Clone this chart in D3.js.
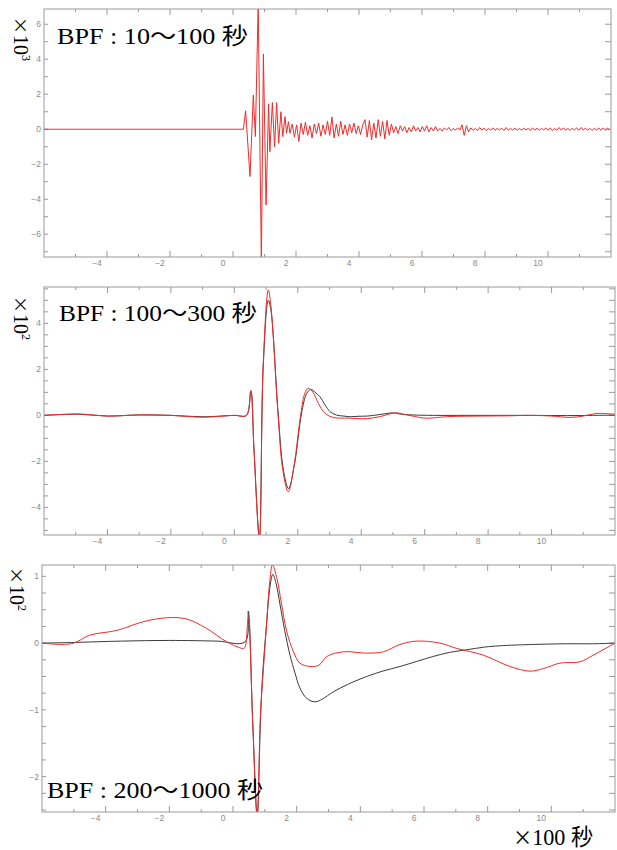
<!DOCTYPE html>
<html>
<head>
<meta charset="utf-8">
<script src="https://cdn.jsdelivr.net/npm/d3@7"></script>
<style>
  body { margin: 0; background: #fff; }
  .tick-label { font-family: "Liberation Sans", Arial, sans-serif; font-size: 8.5px; fill: #8a8a8a; }
  .big { font-family: "Liberation Serif", "Noto Sans CJK JP", serif; fill: #000; }
  .cjk { font-family: "Noto Sans CJK JP", sans-serif; }
</style>
</head>
<body>
<svg id="chart" width="617" height="850"></svg>
<script>
// ---- data (time in units of 100 s) ----

// BPF 10-100 s : onset and main pulse, [t, value x10^3]
const bpf1Head = [
  [-6, 0], [0.33, 0], [0.40, 1.05], [0.54, -2.7], [0.645, 1.96], [0.71, -0.42],
  [0.80, 7.2], [0.90, -7.6], [0.965, 4.3], [1.05, -4.33], [1.13, 1.45], [1.17, -1.28],
  [1.25, 1.52], [1.32, -1.0], [1.385, 1.52], [1.45, -0.8], [1.52, 1.0], [1.58, -0.42],
  [1.65, 0.72], [1.70, -0.23], [1.76, 0.43], [1.81, -0.23]
];
// BPF 10-100 s : coda, sampled every 0.07 from t = 1.88
const bpf1TailStart = 1.88;
const bpf1TailStep = 0.07;
const bpf1Tail = [
  0.3, -0.45, 0.25, -0.7, 0.35, -0.3, 0.4, -0.35, 0.2, -0.5, 0.3, -0.25, 0.35, -0.4, 0.25, -0.3,
  0.45, -0.35, 0.7, -0.5, 0.3, -0.4, 0.45, -0.3, 0.25, -0.35, 0.3, -0.2, 0.35, -0.25, 0.2, -0.3, 0.25,
  0.55, -0.45, 0.5, -0.6, 0.35, -0.5, 0.55, -0.4, 0.45, -0.55, 0.5, -0.35, 0.3,
  -0.2, 0.15, -0.25, 0.2, -0.1, 0.15, -0.2, 0.1, -0.15, 0.2, -0.1, 0.1, -0.15, 0.15, -0.1, 0.2,
  -0.15, 0.1, -0.1, 0.15, -0.1, 0.05, -0.1,
  0.08, -0.05, 0.1, -0.08, 0.05, -0.06, 0.08, -0.05,
  0.25, -0.35, 0.2, -0.15,
  0.08, -0.06, 0.05, -0.08, 0.1, -0.05, 0.06, -0.07, 0.04, -0.05, 0.08, -0.06, 0.05, -0.04, 0.06, -0.08,
  0.1, -0.06, 0.05, -0.05, 0.07, -0.06, 0.04, -0.05, 0.06, -0.04, 0.05, -0.07, 0.08, -0.05, 0.06, -0.06,
  0.05, -0.04, 0.07, -0.05, 0.06, -0.08, 0.05, -0.06, 0.1, -0.05, 0.08, -0.06, 0.05, -0.07, 0.06, -0.04,
  0.08, -0.06, 0.1, -0.05, 0.07, -0.06, 0.05, -0.08, 0.06, -0.05, 0.08, -0.06, 0.07, -0.05, 0.06, -0.04
];

// BPF 100-300 s, [t, value x10^2]
const bpf2Black = [
  [-6, 0], [-4.9, 0.05], [-4.0, -0.03], [-3.0, 0.02], [-2.0, 0.0], [-1.0, -0.06], [0.0, 0.0], [0.38, 0.0],
  [0.52, 1.07], [0.62, -1.5], [0.79, -5.3], [0.91, 2.1], [1.07, 5.0], [1.15, 4.6], [1.38, 0.1],
  [1.55, -2.4], [1.71, -3.18], [1.9, -2.1], [2.12, 0.1], [2.28, 0.95], [2.41, 1.13], [2.55, 1.0],
  [2.70, 0.81], [2.86, 0.45], [3.02, 0.16], [3.23, 0.01], [3.45, -0.03], [3.65, -0.06], [3.9, -0.04],
  [4.19, -0.03], [4.5, 0.02], [4.75, 0.07], [5.01, 0.11], [5.22, 0.06], [5.6, 0.02], [6.27, 0.0],
  [7.3, 0.0], [8.37, 0.0], [9.4, 0.0], [10.5, -0.01], [11.3, 0.0], [12, 0.01]
];
const bpf2Red = [
  [-6, 0], [-4.9, 0.06], [-4.0, -0.03], [-3.0, 0.02], [-2.0, 0.0], [-1.0, -0.08], [0.0, 0.0], [0.38, 0.0],
  [0.52, 1.07], [0.62, -1.5], [0.79, -5.4], [0.91, 2.2], [1.07, 5.45], [1.15, 4.8], [1.38, 0.0],
  [1.53, -2.4], [1.70, -3.32], [1.88, -2.2], [2.1, 0.1], [2.22, 0.95], [2.33, 1.18], [2.48, 1.0],
  [2.65, 0.52], [2.86, 0.09], [3.12, -0.09], [3.6, -0.12], [4.19, -0.14], [4.6, -0.05], [5.1, 0.11],
  [5.4, 0.03], [5.7, -0.05], [6.0, -0.12], [6.8, -0.05], [7.8, -0.03], [8.6, -0.02], [9.4, 0.0],
  [10.0, -0.03], [10.6, -0.09], [11.0, -0.03], [11.4, 0.08], [12, 0.05]
];

// BPF 200-1000 s, [t, value x10^2]
const bpf3Black = [
  [-6, 0], [-5.0, 0.01], [-3.5, 0.03], [-2.0, 0.04], [-0.5, 0.03], [0.38, 0.02], [0.48, 0.48],
  [0.62, -1.2], [0.76, -2.6], [0.86, -1.2], [0.92, -0.55], [1.06, 0.32], [1.15, 0.8], [1.25, 1.03],
  [1.35, 0.9], [1.48, 0.57], [1.62, 0.2], [1.79, -0.18], [1.95, -0.45], [2.1, -0.67], [2.32, -0.83],
  [2.58, -0.88], [2.8, -0.84], [3.15, -0.73], [3.6, -0.62], [4.2, -0.5], [4.7, -0.42], [5.25, -0.35],
  [5.8, -0.27], [6.29, -0.2], [6.8, -0.14], [7.34, -0.1], [7.9, -0.06], [8.39, -0.04], [9.44, -0.02],
  [10.5, -0.01], [11.3, -0.01], [12, 0.0]
];
const bpf3Red = [
  [-6, 0], [-5.4, -0.02], [-5.0, 0.0], [-4.49, 0.12], [-3.65, 0.19], [-2.82, 0.32], [-2.08, 0.38],
  [-1.45, 0.36], [-0.83, 0.22], [-0.2, 0.02], [0.32, -0.08], [0.38, -0.06], [0.48, 0.39],
  [0.62, -1.2], [0.76, -2.6], [0.86, -1.1], [0.95, -0.43], [1.06, 0.32], [1.15, 0.9], [1.24, 1.17],
  [1.38, 0.97], [1.52, 0.6], [1.69, 0.17], [1.9, -0.13], [2.1, -0.3], [2.42, -0.35], [2.7, -0.33],
  [2.95, -0.2], [3.47, -0.13], [4.2, -0.15], [4.72, -0.13], [5.25, -0.02], [5.77, 0.03], [6.5, 0.0],
  [7.03, -0.08], [7.86, -0.18], [8.7, -0.35], [9.33, -0.42], [9.76, -0.38], [10.27, -0.3],
  [10.9, -0.28], [11.32, -0.18], [12, 0.0]
];

const xDomain = [-6, 12];
const xLabelValues = [-4, -2, 0, 2, 4, 6, 8, 10];

// ---- layout ----
const RED = "#f22a2a";
const BLACK = "#3a3a3a";

const bpf1Red = bpf1Head.concat(bpf1Tail.map((v, i) => [bpf1TailStart + i * bpf1TailStep, v]));

const panels = [
  { left: 44, right: 611, top: 9, bottom: 257, yDomain: [-7.3, 6.87], yMinor: 1, yMajor: 2,
    series: [{ data: bpf1Red, color: RED }], curve: d3.curveLinear,
    title: "BPF : 10～100 秒", titleX: 57, titleY: 44, titleW: 191, exp: "3", unitX: 14, unitY: 17 },
  { left: 44, right: 615, top: 287, bottom: 535, yDomain: [-5.2, 5.58], yMinor: 0.5, yMajor: 2,
    series: [{ data: bpf2Black, color: BLACK }, { data: bpf2Red, color: RED }], curve: d3.curveCatmullRom,
    title: "BPF : 100～300 秒", titleX: 59, titleY: 321, titleW: 198, exp: "2", unitX: 14, unitY: 296 },
  { left: 42, right: 615, top: 565, bottom: 812, yDomain: [-2.53, 1.17], yMinor: 0.25, yMajor: 1,
    series: [{ data: bpf3Black, color: BLACK }, { data: bpf3Red, color: RED }], curve: d3.curveCatmullRom,
    title: "BPF : 200～1000 秒", titleX: 47, titleY: 798, titleW: 216, exp: "2", unitX: 10, unitY: 567 }
];

const svg = d3.select("#chart");
svg.append("rect").attr("width", 617).attr("height", 850).attr("fill", "#fff");

const fmt = v => (v < 0 ? "\u2212" + Math.abs(v) : String(v));

panels.forEach((p, pi) => {
  const x = d3.scaleLinear().domain(xDomain).range([p.left, p.right]);
  const y = d3.scaleLinear().domain(p.yDomain).range([p.bottom, p.top]);
  const g = svg.append("g");

  // clip
  const clipId = "clip" + pi;
  svg.append("clipPath").attr("id", clipId)
    .append("rect").attr("x", p.left).attr("y", p.top)
    .attr("width", p.right - p.left).attr("height", p.bottom - p.top);

  // x ticks (top & bottom, inward)
  const xTicks = d3.range(xDomain[0] + 1, xDomain[1], 1);
  xTicks.forEach(t => {
    const len = t % 2 === 0 ? 6 : 3;
    g.append("line").attr("x1", x(t)).attr("x2", x(t)).attr("y1", p.bottom).attr("y2", p.bottom - len)
      .attr("stroke", "#999").attr("stroke-width", 1);
    g.append("line").attr("x1", x(t)).attr("x2", x(t)).attr("y1", p.top).attr("y2", p.top + len)
      .attr("stroke", "#999").attr("stroke-width", 1);
  });
  g.selectAll("text.xl").data(xLabelValues).join("text")
    .attr("class", "tick-label")
    .attr("x", d => x(d) - 10).attr("y", p.bottom + 9)
    .attr("text-anchor", "middle").text(fmt);

  // y ticks (left & right, inward)
  const yTicks = d3.range(Math.ceil(p.yDomain[0] / p.yMinor) * p.yMinor, p.yDomain[1], p.yMinor);
  yTicks.forEach(v => {
    g.append("line").attr("x1", p.left).attr("x2", p.left + 4).attr("y1", y(v)).attr("y2", y(v))
      .attr("stroke", "#999");
    g.append("line").attr("x1", p.right).attr("x2", p.right - 6).attr("y1", y(v)).attr("y2", y(v))
      .attr("stroke", "#999");
  });
  const yLabels = d3.range(Math.ceil(p.yDomain[0] / p.yMajor) * p.yMajor, p.yDomain[1], p.yMajor);
  g.selectAll("text.yl").data(yLabels).join("text")
    .attr("class", "tick-label")
    .attr("x", p.left - 3).attr("y", d => y(d) + 3)
    .attr("text-anchor", "end").text(fmt);

  // series
  const line = d3.line().x(d => x(d[0])).y(d => y(d[1])).curve(p.curve);
  p.series.forEach(s => {
    g.append("path").datum(s.data)
      .attr("clip-path", `url(#${clipId})`)
      .attr("d", line)
      .attr("fill", "none")
      .attr("stroke", s.color)
      .attr("stroke-width", 1)
      .attr("stroke-linejoin", "round");
  });

  // frame
  g.append("rect").attr("x", p.left).attr("y", p.top)
    .attr("width", p.right - p.left).attr("height", p.bottom - p.top)
    .attr("fill", "none").attr("stroke", "#999").attr("stroke-width", 1);

  // title
  svg.append("text").attr("class", "big")
    .attr("x", p.titleX).attr("y", p.titleY)
    .attr("font-size", 23)
    .attr("textLength", p.titleW).attr("lengthAdjust", "spacingAndGlyphs")
    .text(p.title);

  // unit label, rotated
  const u = svg.append("text").attr("class", "big")
    .attr("font-size", 20)
    .attr("transform", `translate(${p.unitX},${p.unitY}) rotate(90)`);
  u.append("tspan").attr("class", "cjk").attr("font-size", 17).text("×");
  u.append("tspan").attr("dx", 1).text("10");
  u.append("tspan").attr("dy", -8).attr("font-size", 12).text(p.exp);
});

const unitX = svg.append("text").attr("class", "big")
  .attr("x", 513).attr("y", 845).attr("font-size", 23)
  .attr("textLength", 80).attr("lengthAdjust", "spacingAndGlyphs");
unitX.append("tspan").attr("class", "cjk").attr("font-size", 20).text("×");
unitX.append("tspan").text("100 秒");
</script>
</body>
</html>
